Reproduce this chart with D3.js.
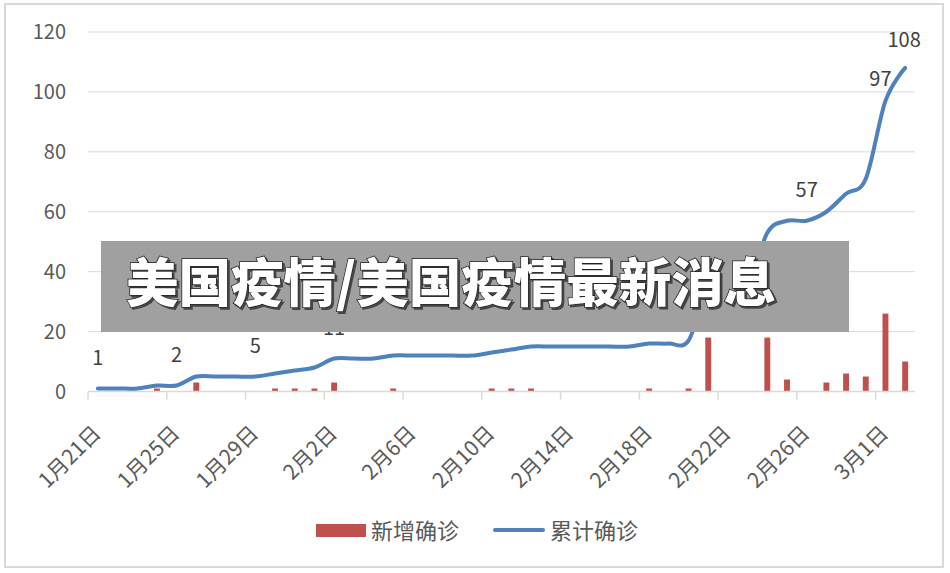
<!DOCTYPE html>
<html>
<head>
<meta charset="utf-8">
<script src="https://cdn.jsdelivr.net/npm/d3@7"></script>
<style>
  body { margin: 0; background: #fff; }
  text { font-family: "Noto Sans CJK SC", "Noto Sans", sans-serif; }
</style>
</head>
<body>
<div id="container"></div>
<script>
var width = 950, height = 573;

// categories (one per day)
var dates = ["1月21日","1月22日","1月23日","1月24日","1月25日","1月26日","1月27日","1月28日",
  "1月29日","1月30日","1月31日","2月1日","2月2日","2月3日","2月4日","2月5日","2月6日",
  "2月7日","2月8日","2月9日","2月10日","2月11日","2月12日","2月13日","2月14日","2月15日",
  "2月16日","2月17日","2月18日","2月19日","2月20日","2月21日","2月22日","2月23日","2月24日",
  "2月25日","2月26日","2月27日","2月28日","2月29日","3月1日","3月2日"];
var newCases = [0,0,0,1,0,3,0,0,0,1,1,1,3,0,0,1,0,0,0,0,1,1,1,0,0,0,0,0,1,0,1,18,0,0,18,4,0,3,6,5,26,10];
var totalCases = [1,1,1,2,2,5,5,5,5,6,7,8,11,11,11,12,12,12,12,12,13,14,15,15,15,15,15,15,16,16,17,35,35,35,53,57,57,60,66,71,97,108];
var yTicks = [0,20,40,60,80,100,120];
var seriesNames = ["新增确诊","累计确诊"];
var bannerText = "美国疫情/美国疫情最新消息";

var margin = {top: 32, left: 88, right: 35, bottom: 181.5};
var plotW = width - margin.left - margin.right,
    plotH = height - margin.top - margin.bottom;

var svg = d3.select("#container").append("svg")
  .attr("width", width)
  .attr("height", height);

// shadow for the banner title
var shadow = svg.append("defs").append("filter")
  .attr("id", "shadow").attr("x", "-5%").attr("y", "-20%")
  .attr("width", "110%").attr("height", "140%");
shadow.append("feDropShadow")
  .attr("dx", 2).attr("dy", 2).attr("stdDeviation", 0.6)
  .attr("flood-color", "#444").attr("flood-opacity", 1);

// chart border
svg.append("rect")
  .attr("x", 5).attr("y", 4)
  .attr("width", 938).attr("height", 563)
  .attr("fill", "#fff")
  .attr("stroke", "#d9d9d9")
  .attr("stroke-width", 2);

var g = svg.append("g")
  .attr("transform", "translate(" + margin.left + "," + margin.top + ")");

var x = d3.scaleBand().domain(d3.range(dates.length)).range([0, plotW])
  .paddingInner(0.7).paddingOuter(0.35);
var step = x.step();
var cx = function(i){ return x(i) + x.bandwidth() / 2; };
var y = d3.scaleLinear().domain([0, 120]).range([plotH, 0]);

// gridlines
g.selectAll(".grid").data(yTicks.slice(1)).enter().append("line")
  .attr("x1", 0).attr("x2", plotW)
  .attr("y1", d => y(d)).attr("y2", d => y(d))
  .attr("stroke", "#d9d9d9").attr("stroke-width", 1);

// y labels
g.selectAll(".ylab").data(yTicks).enter().append("text")
  .attr("x", -22).attr("y", d => y(d))
  .attr("dy", "0.35em")
  .attr("text-anchor", "end")
  .attr("font-size", 20)
  .attr("fill", "#595959")
  .text(d => d);

// bars
g.selectAll(".bar").data(newCases).enter().append("rect")
  .attr("x", (d, i) => x(i))
  .attr("width", x.bandwidth())
  .attr("y", d => y(d))
  .attr("height", d => plotH - y(d))
  .attr("fill", "#c0504d");

// x axis line and ticks
g.append("line")
  .attr("x1", 0).attr("x2", plotW)
  .attr("y1", plotH).attr("y2", plotH)
  .attr("stroke", "#d9d9d9").attr("stroke-width", 1.5);
var tickIdx = d3.range(0, dates.length, 4);
g.selectAll(".tick").data(tickIdx).enter().append("line")
  .attr("x1", d => d * step).attr("x2", d => d * step)
  .attr("y1", plotH).attr("y2", plotH + 8)
  .attr("stroke", "#d9d9d9").attr("stroke-width", 1.5);

g.selectAll(".xlab").data(tickIdx).enter().append("text")
  .attr("transform", d => "translate(" + (cx(d) - 1) + "," + (plotH + 38) + ") rotate(-45)")
  .attr("text-anchor", "end")
  .attr("dy", "0.35em")
  .attr("font-size", 21)
  .attr("fill", "#595959")
  .text(d => dates[d]);

// cumulative line
var line = d3.line()
  .x((d, i) => cx(i))
  .y(d => y(d))
  .curve(d3.curveCardinal.tension(0));
g.append("path")
  .datum(totalCases)
  .attr("d", line)
  .attr("fill", "none")
  .attr("stroke", "#4f81bd")
  .attr("stroke-width", 4)
  .attr("stroke-linecap", "round")
  .attr("stroke-linejoin", "round");

// data labels on the line
var labelIdx = d3.range(0, dates.length, 4).concat([dates.length - 1]);
var labelShift = {40: [-5, -22], 41: [-1, -28]};
g.selectAll(".dlab").data(labelIdx).enter().append("text")
  .attr("x", d => cx(d) + (labelShift[d] ? labelShift[d][0] : 0))
  .attr("y", d => y(totalCases[d]) + (labelShift[d] ? labelShift[d][1] : -31))
  .attr("dy", "0.35em")
  .attr("text-anchor", "middle")
  .attr("font-size", 20)
  .attr("fill", "#404040")
  .text(d => totalCases[d]);

// legend
var leg = svg.append("g");
leg.append("rect")
  .attr("x", 316).attr("y", 524).attr("width", 50).attr("height", 13)
  .attr("fill", "#c0504d");
leg.append("text")
  .attr("x", 371).attr("y", 531).attr("dy", "0.35em")
  .attr("font-size", 22).attr("fill", "#595959")
  .text(seriesNames[0]);
leg.append("line")
  .attr("x1", 495).attr("x2", 543).attr("y1", 530).attr("y2", 530)
  .attr("stroke", "#4f81bd").attr("stroke-width", 4).attr("stroke-linecap", "round");
leg.append("text")
  .attr("x", 550).attr("y", 531).attr("dy", "0.35em")
  .attr("font-size", 22).attr("fill", "#595959")
  .text(seriesNames[1]);

// banner over the chart
var banner = svg.append("g");
banner.append("rect")
  .attr("x", 101).attr("y", 241).attr("width", 748).attr("height", 91)
  .attr("fill", "#a0a0a0");
banner.append("text")
  .attr("x", 126).attr("y", 302)
  .attr("font-size", 52.5).attr("font-weight", 900)
  .attr("fill", "#fff")
  .attr("stroke", "#222").attr("stroke-width", 1.5)
  .attr("paint-order", "stroke")
  .attr("filter", "url(#shadow)")
  .text(bannerText);
</script>
</body>
</html>
